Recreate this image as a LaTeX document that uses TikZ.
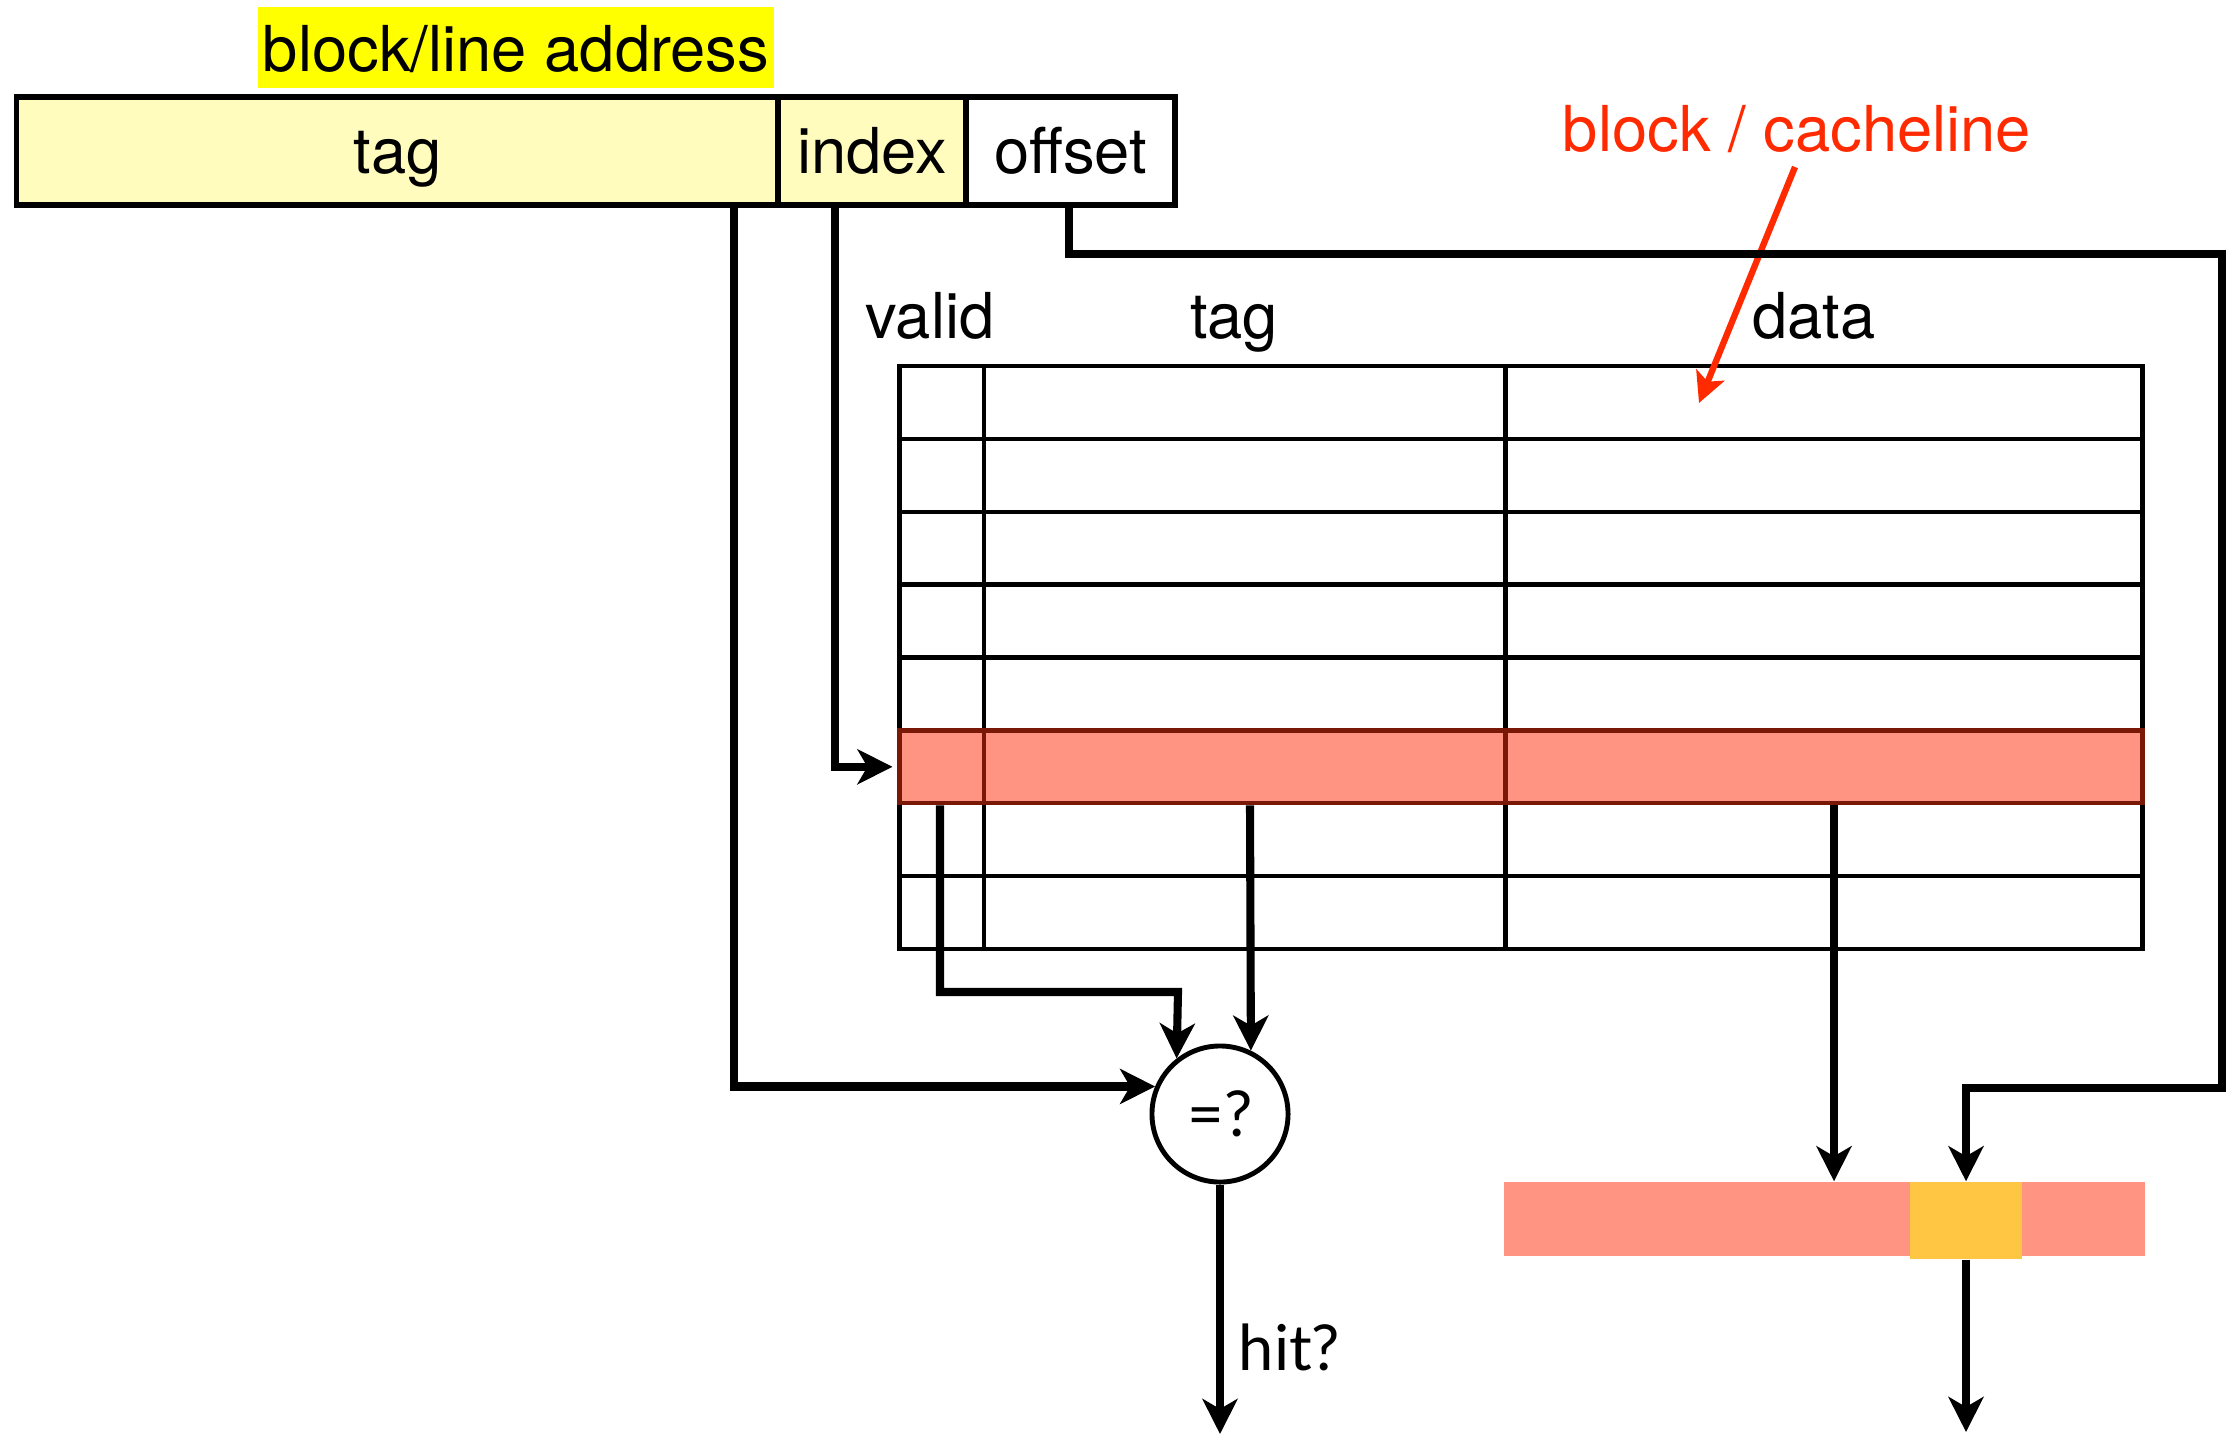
\documentclass[tikz,border=0pt]{standalone}
\usepackage{fontspec}
\setmainfont{TeX Gyre Heros}
\newfontfamily\gillfont{Lato}
\usetikzlibrary{arrows.meta}
\definecolor{hilite}{HTML}{FFFF00}
\definecolor{paleyellow}{HTML}{FFFCBE}
\definecolor{salmon}{HTML}{FF9482}
\definecolor{darkred}{HTML}{7A1808}
\definecolor{wordyellow}{HTML}{FFC644}
\definecolor{redtext}{HTML}{FF2A00}
\begin{document}
\begin{tikzpicture}[x=0.01cm,y=-0.01cm,
  every node/.style={font=\fontsize{18}{22}\selectfont, inner sep=0pt},
  field/.style={draw, line width=1.5pt, minimum height=1.08cm,
    text height=4.6mm, text depth=0.2mm},
  gridline/.style={line width=1.25pt},
  conn/.style={line width=2.3pt, -{Stealth[length=3.5mm,width=3.5mm,inset=1mm]}},
  redarrow/.style={draw=redtext, line width=1.8pt,
    -{Stealth[length=3mm,width=3mm,inset=0.7mm]}, redtext},
  gill/.style={font=\gillfont\fontsize{18}{22}\selectfont}]
\fill[white] (0,0) rectangle (2227,1436);
\useasboundingbox (0,0) rectangle (2227,1436);

% address fields
\node[fill=hilite, minimum width=5.16cm, minimum height=0.81cm,
  text height=4.9mm, text depth=0.2mm] (addr) at (516,47.5) {block/line address};
\node[field, fill=paleyellow, minimum width=7.61cm] (tagf) at (397.5,151) {tag};
\node[field, fill=paleyellow, minimum width=1.88cm] (indexf) at (872,151) {index};
\node[field, fill=white, minimum width=2.09cm] (offsetf) at (1070.5,151) {offset};

% cache array
\node[draw, gridline, minimum width=12.42cm, minimum height=5.83cm] (tbl) at (1521,657.5) {};
\foreach \i in {1,...,7}
  \draw[gridline] (900,{366+72.875*\i}) -- (2142,{366+72.875*\i});
\draw[gridline] (984,366) -- (984,949);
\draw[gridline] (1505.5,366) -- (1505.5,949);
\node[fill=salmon, draw=darkred, gridline, minimum width=12.42cm,
  minimum height=0.729cm] (selrow) at (1521,766.8) {};
\draw[gridline, darkred] (984,730.4) -- (984,803.3);
\draw[gridline, darkred] (1505.5,730.4) -- (1505.5,803.3);

% column headers
\node[anchor=base] (hvalid) at (930,338) {valid};
\node[anchor=base] (htag) at (1234,338) {tag};
\node[anchor=base] (hdata) at (1814,338) {data};

% cacheline label
\node[anchor=base, text=redtext] (bcl) at (1797,151) {block / cacheline};
\coordinate (bclfrom) at (1795,167);
\coordinate (bclto) at (1699,403);
\draw[redarrow] (bclfrom) -- (bclto);

% comparator and output word
\node[circle, draw, line width=1.4pt, minimum size=1.36cm, gill] (cmp) at (1220,1114) {=?};
\node[fill=salmon, minimum width=6.41cm, minimum height=0.74cm] (outbar) at (1824.5,1219) {};
\node[fill=wordyellow, minimum width=1.12cm, minimum height=0.77cm] (word) at (1966,1220.5) {};

% x positions of the wires
\coordinate (xtag) at (734,0);
\coordinate (xidx) at (835,0);
\coordinate (xoff) at (1069,0);
\coordinate (xv) at (940,0);
\coordinate (xt) at (1250,0);
\coordinate (xd) at (1834,0);
\coordinate (c1) at (2222,254);
\coordinate (c2) at (1966,1088);
\coordinate (vb) at (1178,992);
\coordinate (hitend) at (1220,1434);
\coordinate (wordend) at (1966,1432);

% wires
\draw[conn] (tagf.south -| xtag) |- (cmp.157.5);
\draw[conn, shorten >=0.5mm] (indexf.south -| xidx) |- (selrow.west);
\draw[conn] (offsetf.south -| xoff) |- (c1) |- (c2) -- (word.north);
\draw[conn] (selrow.south -| xv) |- (vb) -- (cmp.128);
\draw[conn] (selrow.south -| xt) -- (cmp.64);
\draw[conn] (selrow.south -| xd) -- (outbar.north -| xd);
\draw[conn] (cmp.south) -- (hitend);
\draw[conn] (word.south) -- (wordend);
\node[anchor=base west, gill] (hit) at (1238,1370) {hit?};
\end{tikzpicture}
\end{document}
